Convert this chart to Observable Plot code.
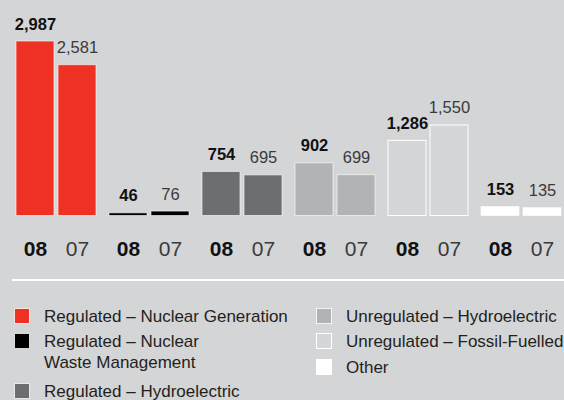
<!DOCTYPE html>
<html>
<head>
<meta charset="utf-8">
<script src="https://cdn.jsdelivr.net/npm/d3@7"></script>
<script src="https://cdn.jsdelivr.net/npm/@observablehq/plot@0.6"></script>
<style>
  html, body { margin: 0; padding: 0; background: #d4d5d7; }
  body { width: 564px; height: 400px; overflow: hidden; position: relative; font-family: "Liberation Sans", Arial, sans-serif; }
  #chart { position: absolute; left: 0; top: 0; }
  #divider { position: absolute; left: 12px; top: 279px; width: 552px; height: 2px; background: #ffffff; }
  .item { position: absolute; font-size: 17px; line-height: 21px; color: #231f20; }
  .sw { position: absolute; width: 14px; height: 14px; border: 1px solid rgba(255,255,255,0.85); }
  .lbl { position: absolute; white-space: nowrap; }
</style>
</head>
<body>
<div id="chart"></div>
<div id="divider"></div>
<div id="legend"></div>
<script>
const categories = [
  "Regulated – Nuclear Generation",
  "Regulated – Nuclear Waste Management",
  "Regulated – Hydroelectric",
  "Unregulated – Hydroelectric",
  "Unregulated – Fossil-Fuelled",
  "Other"
];
const legendLabels = [
  "Regulated – Nuclear Generation",
  "Regulated – Nuclear<br>Waste Management",
  "Regulated – Hydroelectric",
  "Unregulated – Hydroelectric",
  "Unregulated – Fossil-Fuelled",
  "Other"
];
const years = ["08", "07"];
const values08 = [2987, 46, 754, 902, 1286, 153];
const values07 = [2581, 76, 695, 699, 1550, 135];
const colors = ["#ef3124", "#000000", "#6d6e71", "#b1b3b6", "#d4d5d7", "#ffffff"];

const data = [];
categories.forEach((c, i) => {
  data.push({cat: c, year: "08", value: values08[i]});
  data.push({cat: c, year: "07", value: values07[i]});
});
const fmt = d3.format(",");
const fossil = categories[4];

const chart = Plot.plot({
  width: 564,
  height: 282,
  marginLeft: 14,
  marginRight: 1,
  marginTop: 0,
  marginBottom: 0,
  style: {background: "transparent", fontFamily: "'Liberation Sans', Arial, sans-serif", overflow: "visible"},
  fx: {domain: categories, paddingInner: 0.1346, paddingOuter: 0, axis: null, label: null},
  x: {domain: years, paddingInner: 0.1, paddingOuter: 0, axis: null},
  y: {domain: [0, 2987], range: [215.5, 41], axis: null},
  color: {domain: categories, range: colors},
  marks: [
    Plot.barY(data, {
      fx: "cat", x: "year", y: "value", fill: "cat",
      stroke: "#ffffff",
      strokeWidth: 1,
      strokeOpacity: d => d.cat === fossil ? 1 : 0.6
    }),
    Plot.text(data.filter(d => d.year === "08"), {
      fx: "cat", x: "year", y: "value", text: d => fmt(d.value),
      dy: -12, lineAnchor: "bottom", fontSize: 16.5, fontWeight: "bold", fill: "#111111"
    }),
    Plot.text(data.filter(d => d.year === "07"), {
      fx: "cat", x: "year", y: "value", text: d => fmt(d.value),
      dy: -12, lineAnchor: "bottom", fontSize: 16.5, fill: "#3a3a3a"
    }),
    Plot.text(data.filter(d => d.year === "08"), {
      fx: "cat", x: "year", y: 0, text: "year",
      dy: 33, lineAnchor: "middle", fontSize: 21, fontWeight: "bold", fill: "#111111"
    }),
    Plot.text(data.filter(d => d.year === "07"), {
      fx: "cat", x: "year", y: 0, text: "year",
      dy: 33, lineAnchor: "middle", fontSize: 21, fill: "#3a3a3a"
    })
  ]
});
document.getElementById("chart").appendChild(chart);

// Legend (HTML), two columns
const legend = document.getElementById("legend");
const positions = [
  {left: 14, top: 308}, {left: 14, top: 333}, {left: 14, top: 383},
  {left: 316, top: 308}, {left: 316, top: 333}, {left: 316, top: 359}
];
categories.forEach((c, i) => {
  const p = positions[i];
  const sw = document.createElement("div");
  sw.className = "sw";
  sw.style.left = p.left + "px";
  sw.style.top = p.top + "px";
  sw.style.background = colors[i];
  if (i === 4) sw.style.border = "1px solid #ffffff";
  legend.appendChild(sw);
  const lb = document.createElement("div");
  lb.className = "item lbl";
  lb.style.left = (p.left + 30) + "px";
  lb.style.top = (p.top - 2) + "px";
  lb.innerHTML = legendLabels[i];
  legend.appendChild(lb);
});
</script>
</body>
</html>
